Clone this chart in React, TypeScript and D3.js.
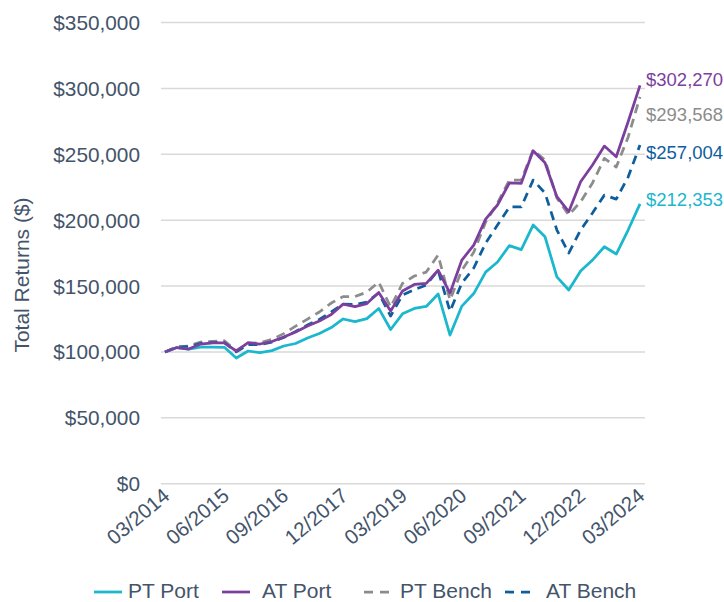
import React from "react";
import * as d3 from "d3";

const quarters: string[] = (() => {
  const out: string[] = [];
  const months = ["03", "06", "09", "12"];
  for (let y = 2014; y <= 2024; y++) {
    for (const m of months) {
      if (y === 2024 && m !== "03") break;
      out.push(`${m}/${y}`);
    }
  }
  return out;
})();

const tickLabels = ["03/2014", "06/2015", "09/2016", "12/2017", "03/2019", "06/2020", "09/2021", "12/2022", "03/2024"];
const yTicks = [0, 50000, 100000, 150000, 200000, 250000, 300000, 350000];

const ptPort = [
  100000, 103300, 102200, 103700, 103700, 103500, 95400, 100700, 99500, 101000,
  104500, 106400, 110500, 114000, 118500, 125000, 123000, 125300, 133000, 117000,
  128900, 133000, 134500, 144000, 112800, 134800, 144300, 160600, 168200, 180700,
  177600, 196300, 187400, 157000, 147000, 161400, 169700, 179800, 174300, 192500,
  212353,
];
const atPort = [
  100000, 103300, 102200, 106000, 106800, 106800, 100700, 107100, 106000, 107900,
  111300, 115100, 119700, 123400, 128400, 136300, 134400, 136700, 145100, 131000,
  146200, 151200, 152000, 162000, 144700, 169700, 181100, 200800, 211500, 228200,
  228000, 252700, 243600, 217800, 206400, 229100, 241800, 256200, 248100, 274700,
  302270,
];
const ptBench = [
  100000, 104000, 104500, 107500, 108000, 108500, 101000, 106500, 107000, 109500,
  113900, 119600, 124900, 130300, 137100, 142000, 142000, 145400, 153000, 134000,
  152000, 157600, 160600, 173500, 139400, 162100, 175700, 198500, 213000, 230400,
  230400, 253200, 245600, 216800, 203900, 214000, 228200, 246900, 240300, 263000,
  293568,
];
const atBench = [
  100000, 103500, 104000, 106500, 107000, 107000, 100000, 105500, 105500, 107500,
  111000, 115500, 120400, 124600, 130300, 136300, 136000, 137900, 144700, 127200,
  143200, 147300, 150800, 162000, 130800, 152300, 163700, 182600, 196300, 210000,
  210000, 230400, 220600, 192500, 175000, 192500, 205400, 219000, 216000, 232700,
  257004,
];

const seriesNames = ["PT Port", "AT Port", "PT Bench", "AT Bench"];

const W = 724;
const H = 602;
const TEXT = "#44546A";
const FONT = "'Liberation Sans', Arial, sans-serif";

export default function App() {
  const x = d3.scaleLinear().domain([0, quarters.length - 1]).range([165, 640]);
  const y = d3.scaleLinear().domain([0, 350000]).range([483.7, 22.5]);
  const fmt = (v: number) => "$" + d3.format(",")(v);

  const series = [
    { name: seriesNames[0], data: ptPort, color: "#1AB7CD", dash: null as string | null, labelY: 199 },
    { name: seriesNames[1], data: atPort, color: "#7B3F9E", dash: null, labelY: 79 },
    { name: seriesNames[2], data: ptBench, color: "#8C8C8C", dash: "9,6", labelY: 114 },
    { name: seriesNames[3], data: atBench, color: "#0E5E9E", dash: "9,6", labelY: 152.5 },
  ];
  const drawOrder = [2, 3, 0, 1];

  const line = d3
    .line<number>()
    .x((_, i) => x(i))
    .y((d) => y(d));

  const legendItems = [
    { s: series[0], lx: 94, tx: 128 },
    { s: series[1], lx: 222, tx: 262 },
    { s: series[2], lx: 364, tx: 400 },
    { s: series[3], lx: 505, tx: 546 },
  ];

  return (
    <svg
      width={W}
      height={H}
      style={{ position: "absolute", left: 0, top: 0, background: "#fff" }}
      fontFamily={FONT}
    >
      {yTicks.map((t) => (
        <g key={t}>
          <line x1={161} x2={645} y1={y(t)} y2={y(t)} stroke="#D9D9D9" strokeWidth={1.5} />
          <text x={140} y={y(t)} dy="0.36em" textAnchor="end" fontSize={20.8} fill={TEXT}>
            {fmt(t)}
          </text>
        </g>
      ))}
      <text
        transform={`translate(29,275) rotate(-90)`}
        textAnchor="middle"
        fontSize={21}
        fill={TEXT}
      >
        Total Returns ($)
      </text>
      {tickLabels.map((lab) => {
        const i = quarters.indexOf(lab);
        return (
          <text
            key={lab}
            transform={`translate(${x(i) + 6},${498}) rotate(-40)`}
            textAnchor="end"
            fontSize={20.5}
            fill={TEXT}
          >
            {lab}
          </text>
        );
      })}
      {drawOrder.map((k) => {
        const s = series[k];
        return (
          <path
            key={s.name}
            d={line(s.data) || ""}
            fill="none"
            stroke={s.color}
            strokeWidth={2.75}
            strokeDasharray={s.dash || undefined}
            strokeLinejoin="round"
          />
        );
      })}
      {series.map((s) => (
        <text key={s.name + "l"} x={646} y={s.labelY} dy="0.36em" fontSize={18.5} fill={s.color}>
          {fmt(s.data[s.data.length - 1])}
        </text>
      ))}
      {legendItems.map(({ s, lx, tx }) => (
        <g key={s.name + "g"}>
          <line
            x1={lx}
            x2={lx + (s.dash ? 30 : 28)}
            y1={592}
            y2={592}
            stroke={s.color}
            strokeWidth={2.75}
            strokeDasharray={s.dash ? "9,7" : undefined}
          />
          <text x={tx} y={598} fontSize={21} fill={TEXT}>
            {s.name}
          </text>
        </g>
      ))}
    </svg>
  );
}
